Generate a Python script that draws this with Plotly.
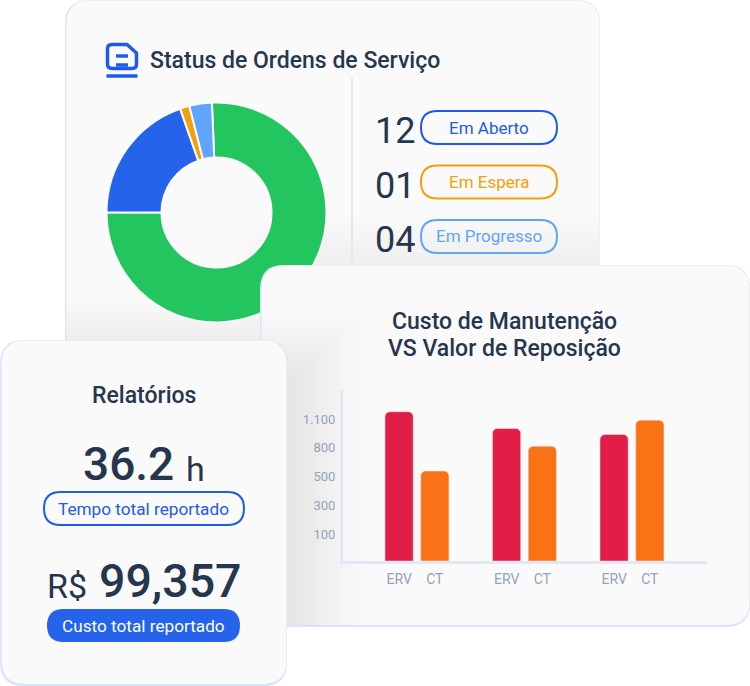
import plotly.graph_objects as go

# donut
status_labels = ["Concluído", "Em Aberto", "Em Espera", "Em Progresso"]
status_shares = [75.7, 19.6, 1.4, 3.3]
status_colors = ["#22c55e", "#2563eb", "#f59e0b", "#60a5fa"]

# legend next to the donut
legend_counts = ["12", "01", "04"]
legend_labels = ["Em Aberto", "Em Espera", "Em Progresso"]

# bars: the axis labels are evenly spaced, so values are in tick steps
groups = [0, 1, 2]
erv_values = [5.19, 4.61, 4.40]
ct_values = [3.13, 3.99, 4.90]
tick_steps = [0.94, 1.94, 2.94, 3.94, 4.94]
tick_labels = ["100", "300", "500", "800", "1.100"]

W, H = 750, 686
INK = "#26364f"
CARD = "#fafafa"
EDGE = "#d8e4fb"
BLUE = "#1d5be8"
ORANGE = "#f59e0b"
SKY = "#60a5fa"


def px(x):
    return x / W


def py(y):
    return 1 - y / H


def rounded(x0, y0, x1, y1, r):
    pts = [
        ("M", x0 + r, y0), ("L", x1 - r, y0), ("Q", x1, y0, x1, y0 + r),
        ("L", x1, y1 - r), ("Q", x1, y1, x1 - r, y1), ("L", x0 + r, y1),
        ("Q", x0, y1, x0, y1 - r), ("L", x0, y0 + r), ("Q", x0, y0, x0 + r, y0),
    ]
    out = ""
    for p in pts:
        coords = [px(v) if i % 2 == 0 else py(v) for i, v in enumerate(p[1:])]
        out += p[0] + " ".join(f"{c:.5f}" for c in coords) + " "
    return out + "Z"


def card(x0, y0, x1, y1, r, layer):
    # a blue copy peeking out at left and bottom makes the soft edge
    back = dict(type="path", path=rounded(x0, y0, x1, y1, r), xref="paper", yref="paper",
                fillcolor=EDGE, line=dict(width=0), layer=layer)
    front = dict(type="path", path=rounded(x0 + 1.5, y0 + 0.5, x1 - 0.5, y1 - 2, r), xref="paper", yref="paper",
                 fillcolor=CARD, line=dict(width=0), layer=layer)
    return [back, front]


def pill(x0, y0, x1, y1, color, fill="rgba(0,0,0,0)", width=2):
    return dict(type="path", path=rounded(x0, y0, x1, y1, (y1 - y0) / 2), xref="paper", yref="paper",
                fillcolor=fill, line=dict(color=color, width=width), layer="above")


def strip(x0, y0, x1, y1, layer):
    return dict(type="rect", xref="paper", yref="paper", x0=px(x0), x1=px(x1), y0=py(y0), y1=py(y1),
                fillcolor="rgba(200,200,200,0.02)", line=dict(width=0), layer=layer)


def label(x, y, text, size, color=INK, anchor="center", weight=400):
    return dict(x=px(x), y=py(y), xref="paper", yref="paper", text=text, showarrow=False,
                xanchor=anchor, yanchor="middle",
                font=dict(family="Roboto", size=size, color=color, weight=weight))


fig = go.Figure()

fig.add_trace(go.Pie(
    labels=status_labels, values=status_shares, sort=False, direction="clockwise", rotation=-2.4,
    hole=0.5, textinfo="none", showlegend=False,
    marker=dict(colors=status_colors, line=dict(color=CARD, width=2)),
    domain=dict(x=[px(106.5), px(326.5)], y=[py(322.5), py(102.5)]),
))

fig.add_trace(go.Bar(x=groups, y=erv_values, name="ERV", marker=dict(color="#e11d48", cornerradius=5)))
fig.add_trace(go.Bar(x=groups, y=ct_values, name="CT", marker=dict(color="#f97316", cornerradius=5)))

shapes = card(65, 0, 600, 400, 24, "below")

# shadow the lower cards throw on the top card
for i in range(11):
    shapes.append(strip(262 - (10 - i) * 3, 265 - (i + 1) * 4.5, 599.5, 266, "below"))
for i in range(12):
    shapes.append(strip(66.5, 340 - (i + 1) * 3.4, 262, 345, "below"))

# divider in the top card
shapes.append(dict(type="line", xref="paper", yref="paper", x0=px(352), x1=px(352), y0=py(78), y1=py(266),
                   line=dict(color="#e2e8f3", width=2), layer="below"))

shapes += card(260, 265, 750, 627, 24, "above")

# shadow of the reports card on the bars card
steps = 22
for i in range(steps):
    reach = (steps - i) * 3.4
    shapes.append(strip(261.5, 385 - reach, 287 + reach, 625, "above"))

shapes += card(0, 340, 287, 686, 24, "above")

for i, color in enumerate([BLUE, ORANGE, SKY]):
    shapes.append(pill(421, 111 + i * 54.5, 557, 144 + i * 54.5, color))
shapes.append(pill(44, 492, 244, 525, BLUE))
shapes.append(pill(47, 609, 240, 642, "#2563eb", "#2563eb", 0))

# document icon
icon = "M{} {} L{} {} Q{} {} {} {} L{} {} L{} {} L{} {} Q{} {} {} {} L{} {} Q{} {} {} {} Z".format(
    *[f"{(px(v) if i % 2 == 0 else py(v)):.5f}" for i, v in enumerate([
        107.5, 64, 107.5, 49, 107.5, 44.5, 112, 44.5, 127, 44.5, 136.5, 53, 136.5, 64, 136.5, 68.5, 132, 68.5,
        112, 68.5, 107.5, 68.5, 107.5, 64,
    ])])
shapes.append(dict(type="path", xref="paper", yref="paper", layer="below", path=icon,
                   fillcolor="rgba(0,0,0,0)", line=dict(color=BLUE, width=3.5)))
for x0, x1, y in [(116, 128, 56), (116, 128, 65), (106.5, 137.5, 76)]:
    shapes.append(dict(type="line", xref="paper", yref="paper", x0=px(x0), x1=px(x1), y0=py(y), y1=py(y),
                       line=dict(color=BLUE, width=3.5), layer="below"))

annotations = [
    label(148, 60.5, "Status de Ordens de Serviço", 23, anchor="left", weight=500),
    label(504.5, 321, "Custo de Manutenção", 23, weight=500),
    label(504.5, 348, "VS Valor de Reposição", 23, weight=500),
    label(144, 395, "Relatórios", 23, weight=500),
    label(81, 464, "36.2", 46, anchor="left", weight=500),
    label(184, 469, "h", 34, anchor="left"),
    label(143.5, 509, "Tempo total reportado", 17.2, BLUE),
    label(45, 586, "R$", 34, anchor="left"),
    label(97, 581, "99,357", 46.5, anchor="left", weight=500),
    label(143.5, 626, "Custo total reportado", 17.2, "#ffffff"),
]
for i, (count, name) in enumerate(zip(legend_counts, legend_labels)):
    annotations.append(label(372.5, 131 + i * 54.5, count, 36, anchor="left"))
    annotations.append(label(488.5, 127.5 + i * 54.5, name, 17, [BLUE, ORANGE, SKY][i]))

fig.update_layout(
    width=W, height=H, margin=dict(l=0, r=0, t=0, b=0),
    paper_bgcolor="#ffffff", plot_bgcolor="rgba(0,0,0,0)",
    showlegend=False, barmode="group", bargap=0.335, bargroupgap=0.21,
    shapes=shapes, annotations=annotations,
    xaxis=dict(
        domain=[px(343), px(707)], range=[-0.688, 2.698], showgrid=False, zeroline=False,
        showline=True, linecolor="#e2e8f3", linewidth=3,
        tickmode="array",
        tickvals=[g + s for g in groups for s in (-0.166, 0.166)],
        ticktext=["ERV", "CT"] * len(groups),
        ticks="outside", ticklen=3, tickcolor="rgba(0,0,0,0)",
        tickfont=dict(family="Roboto", size=14, color="#94a3b8"),
    ),
    yaxis=dict(
        domain=[py(561), py(390)], range=[0, 5.948], showgrid=False, zeroline=False,
        showline=True, linecolor="#e2e8f3", linewidth=3,
        tickmode="array", tickvals=tick_steps, ticktext=tick_labels,
        ticks="outside", ticklen=2, tickcolor="rgba(0,0,0,0)",
        tickfont=dict(family="Roboto", size=13, color="#94a3b8"),
    ),
)

# bars have to sit above the card that hides the donut, so lift the axes layer
post = """
document.body.style.margin = '0';
var gd = document.getElementById('{plot_id}');
var above = gd.querySelector('.layer-above');
above.parentNode.insertBefore(gd.querySelector('.cartesianlayer'), above.nextSibling);
"""
fig.write_html("out.html", post_script=post, config=dict(displayModeBar=False))
